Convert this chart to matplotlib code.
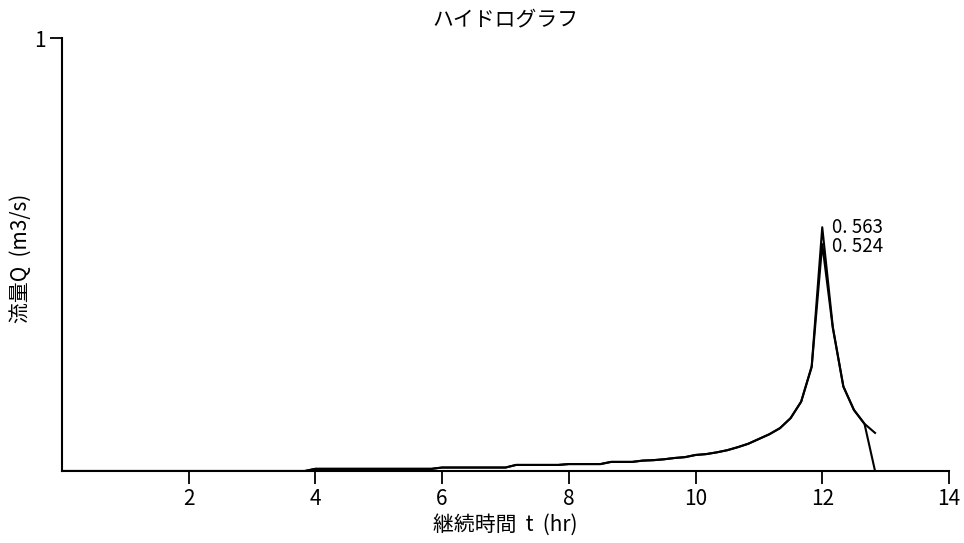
import numpy as np
import matplotlib.pyplot as plt

plt.rcParams['font.family'] = ['Noto Sans CJK JP', 'DejaVu Sans']

# 10 minute steps, 0 .. 12.83 hr
t = np.arange(78) / 6.0

# series 1 (peak 0.563)
q1 = [0.0] * 24 + [0.005] * 12 + [0.008] * 7 + [0.014] * 5 + [0.016] * 4 + \
     [0.021, 0.021, 0.021, 0.024, 0.025, 0.027, 0.030, 0.032, 0.037, 0.039,
      0.043, 0.048, 0.055, 0.063, 0.074, 0.085, 0.099, 0.122, 0.160, 0.242,
      0.563, 0.333, 0.195, 0.141, 0.109, 0.088]
# series 2 (peak 0.524)
q2 = [0.0] * 24 + [0.005] * 12 + [0.008] * 7 + [0.014] * 5 + [0.016] * 4 + \
     [0.021, 0.021, 0.021, 0.024, 0.025, 0.027, 0.030, 0.032, 0.037, 0.039,
      0.043, 0.048, 0.055, 0.063, 0.074, 0.085, 0.099, 0.122, 0.160, 0.240,
      0.524, 0.330, 0.195, 0.141, 0.109, 0.0]

peak_labels = ['0. 563', '0. 524']
xticks = [2, 4, 6, 8, 10, 12, 14]

num_font = ['Liberation Sans Narrow', 'Noto Sans CJK JP', 'DejaVu Sans']

fig = plt.figure(figsize=(9.64, 5.43), dpi=100)
ax = fig.add_axes([0.0643, 0.1326, 0.9201, 0.7974])

ax.plot(t, q1, color='black', lw=1.5)
ax.plot(t, q2, color='black', lw=1.5)

i1 = int(np.argmax(q1))
i2 = int(np.argmax(q2))
ax.text(t[i1] + 0.15, q1[i1] - 0.001, peak_labels[0], fontsize=13.5, va='center',
        ha='left', family=num_font)
ax.text(t[i2] + 0.15, q2[i2] - 0.006, peak_labels[1], fontsize=13.5, va='center',
        ha='left', family=num_font)

ax.set_xlim(0, 14)
ax.set_ylim(0, 1)
ax.set_xticks(xticks)
ax.set_yticks([1])
ax.tick_params(direction='out', length=9, width=1.3, labelsize=15, pad=3)
for lab in ax.get_xticklabels() + ax.get_yticklabels():
    lab.set_family(num_font)
for s in ['top', 'right']:
    ax.spines[s].set_visible(False)
for s in ['left', 'bottom']:
    ax.spines[s].set_linewidth(1.5)

ax.set_title('ハイドログラフ', fontsize=15, pad=9)
ax.set_xlabel('継続時間  t  (hr)', fontsize=15, labelpad=3)
ax.set_ylabel('流量Q  (m3/s)', fontsize=15, va='center')
ax.yaxis.set_label_coords(-0.047, 0.49)

fig.savefig('out.png', dpi=100)
